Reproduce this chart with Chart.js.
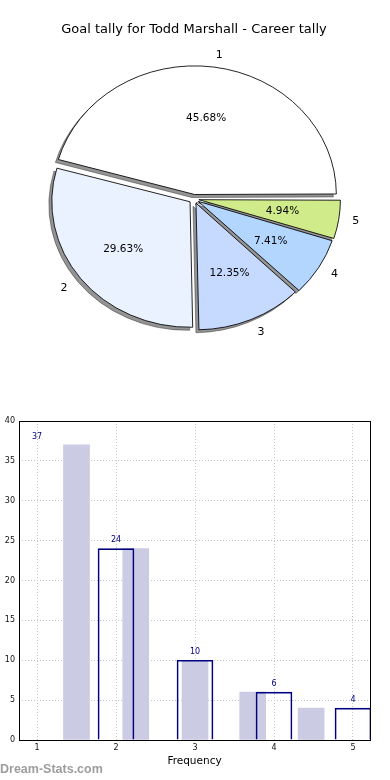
<!DOCTYPE html>
<html lang="en">
<head>
<meta charset="utf-8">
<title>Goal tally for Todd Marshall - Career tally</title>
<script src="https://cdn.jsdelivr.net/npm/chart.js@4.4.1/dist/chart.umd.min.js"></script>
<style>
  html, body { margin: 0; padding: 0; background: #fff; }
  body { width: 390px; height: 780px; position: relative; overflow: hidden; }
  #pie { position: absolute; left: 0; top: 0; }
  #bar { position: absolute; left: 0; top: 400px; }
  .mark { position: absolute; left: 0; top: 762px; line-height: 12.5px;
          font: bold 12.5px "Liberation Sans", Arial, sans-serif; color: #9d9d9d; }
</style>
</head>
<body>
<canvas id="pie" width="390" height="348"></canvas>
<canvas id="bar" width="390" height="380"></canvas>
<div class="mark">Dream-Stats.com</div>
<script>
const categories = ['1', '2', '3', '4', '5'];
const goals = [37, 24, 10, 6, 4];
const sliceColors = ['#ffffff', '#eaf1ff', '#c6d9ff', '#b3d6ff', '#d0eb8a'];

// the two bar series as they sit in the lower plot
const shadedX = [1.5, 2.25, 3.0, 3.73, 4.47];
const shadedY = [37, 24, 10, 6, 4];
const outlineX = [1, 2, 3, 4, 5];
const outlineY = [null, 24, 10, 6, 4];
const xTicks = [1, 2, 3, 4, 5];
const yTicks = [0, 5, 10, 15, 20, 25, 30, 35, 40];

const FONT = '"DejaVu Sans", Verdana, sans-serif';
const total = goals.reduce((a, b) => a + b, 0);

// ---- pie ----
// matplotlib runs counter-clockwise from 3 o'clock, chart.js clockwise
const pieOrder = [4, 3, 2, 1, 0];
const SQUASH = 0.908;   // pie is drawn as an ellipse in the original
const EXPLODE = 5;
const LABEL_R = 141;
const SHADOW = 'rgba(0,0,0,0.42)';

const pieLook = {
  id: 'pieLook',
  beforeDatasetsDraw(chart) {
    const ctx = chart.ctx;
    const arcs = chart.getDatasetMeta(0).data;
    const cy = arcs[0].y;
    ctx.save();
    ctx.translate(0, cy);
    ctx.scale(1, SQUASH);
    ctx.translate(0, -cy);
    // drop shadow: the same wedges, grey, nudged down-left
    ctx.save();
    ctx.translate(-3, 3 / SQUASH);
    arcs.forEach(arc => {
      const keep = arc.options;
      arc.options = Object.assign({}, keep, { backgroundColor: SHADOW, borderColor: SHADOW });
      arc.draw(ctx);
      arc.options = keep;
    });
    ctx.restore();
  },
  afterDatasetsDraw(chart) {
    const ctx = chart.ctx;
    ctx.restore();
    ctx.save();
    ctx.fillStyle = '#000';
    ctx.textBaseline = 'middle';
    chart.getDatasetMeta(0).data.forEach((arc, i) => {
      const k = pieOrder[i];
      const mid = (arc.startAngle + arc.endAngle) / 2;
      const at = dist => {
        const r = EXPLODE + LABEL_R * dist;
        return [arc.x + Math.cos(mid) * r, arc.y + Math.sin(mid) * r * SQUASH];
      };
      let [px, py] = at(0.6);
      ctx.font = '10.5px ' + FONT;
      ctx.textAlign = 'center';
      ctx.fillText((goals[k] / total * 100).toFixed(2) + '%', px, py);
      [px, py] = at(1.1);
      ctx.font = '11px ' + FONT;
      ctx.textAlign = Math.cos(mid) > 0 ? 'left' : 'right';
      ctx.fillText(categories[k], px, py);
    });
    ctx.restore();
  }
};

new Chart(document.getElementById('pie'), {
  type: 'pie',
  data: {
    labels: pieOrder.map(k => categories[k]),
    datasets: [{
      data: pieOrder.map(k => goals[k]),
      backgroundColor: pieOrder.map(k => sliceColors[k]),
      borderColor: '#000',
      borderWidth: 0.9,
      offset: EXPLODE * 4,
      hoverOffset: 0,
      clip: false
    }]
  },
  options: {
    responsive: false,
    animation: false,
    events: [],
    rotation: 90,
    radius: 138,
    layout: { padding: { left: 0, right: 2, top: 0, bottom: 0 } },
    plugins: {
      legend: { display: false },
      tooltip: { enabled: false },
      title: {
        display: true,
        text: 'Goal tally for Todd Marshall - Career tally',
        color: '#000',
        font: { family: FONT, size: 13, weight: 'normal' },
        padding: { top: 22, bottom: 12.4 }
      }
    }
  },
  plugins: [pieLook]
});

// ---- bars ----
const frame = {
  id: 'frame',
  afterDatasetsDraw(chart) {
    const { ctx, chartArea: a, scales: { x, y } } = chart;
    ctx.save();
    ctx.strokeStyle = '#000';
    ctx.lineWidth = 1;
    ctx.strokeRect(a.left + 0.5, a.top + 0.5, a.right - a.left, a.bottom - a.top);
    ctx.font = '8px ' + FONT;
    ctx.fillStyle = '#000080';
    ctx.textAlign = 'center';
    ctx.textBaseline = 'middle';
    categories.forEach((c, i) => {
      ctx.fillText(String(goals[i]), x.getPixelForValue(Number(c)), y.getPixelForValue(goals[i]) - 8.5);
    });
    ctx.restore();
  }
};

const tickFont = { family: FONT, size: 8 };
const gridStyle = { color: '#c4c4c4', lineWidth: 1, drawTicks: false };
const borderStyle = { display: false, dash: [1, 2] };

new Chart(document.getElementById('bar'), {
  type: 'bar',
  data: {
    datasets: [{
      data: outlineX.map((x, i) => ({ x, y: outlineY[i] })),
      backgroundColor: 'rgba(0,0,0,0)',
      borderColor: '#000080',
      borderWidth: 1,
      borderSkipped: 'bottom',
      barThickness: 36,
      grouped: false,
      order: 0
    }, {
      data: shadedX.map((x, i) => ({ x, y: shadedY[i] })),
      backgroundColor: '#cbcbe3',
      borderWidth: 0,
      barThickness: 26,
      grouped: false,
      order: 1
    }]
  },
  options: {
    responsive: false,
    animation: false,
    events: [],
    layout: { padding: { top: 21, right: 20, left: 0, bottom: 0 } },
    plugins: { legend: { display: false }, tooltip: { enabled: false } },
    scales: {
      x: {
        type: 'linear',
        offset: false,
        min: 0.77215,
        max: 5.21519,
        afterBuildTicks: s => { s.ticks = xTicks.map(v => ({ value: v })); },
        afterFit: s => { s.height = 40; },
        grid: Object.assign({ offset: false }, gridStyle),
        border: borderStyle,
        ticks: { font: tickFont, color: '#111', padding: 3, maxRotation: 0 },
        title: {
          display: true,
          text: 'Frequency',
          color: '#000',
          font: { family: FONT, size: 10.5 },
          padding: { top: 0, bottom: 12.7 }
        }
      },
      y: {
        min: 0,
        max: 40,
        afterBuildTicks: s => { s.ticks = yTicks.map(v => ({ value: v })); },
        afterFit: s => { s.width = 19; },
        grid: gridStyle,
        border: borderStyle,
        ticks: { font: tickFont, color: '#111', padding: 4 }
      }
    }
  },
  plugins: [frame]
});
</script>
</body>
</html>
